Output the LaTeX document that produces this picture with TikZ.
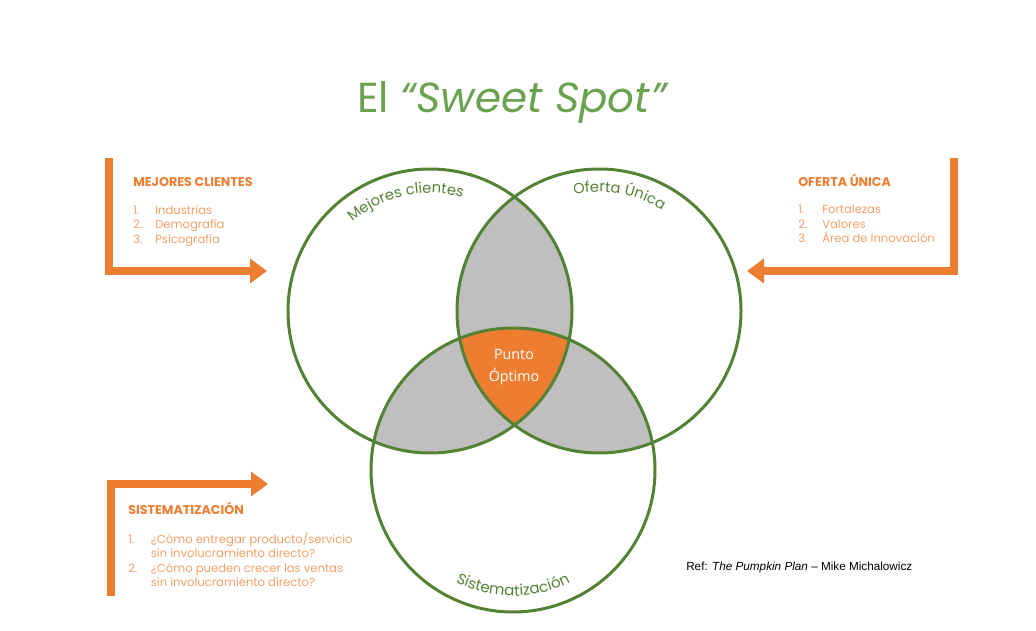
\documentclass[tikz,border=0pt]{standalone}
\usepackage{fontspec}
\setmainfont{Poppins}
\newfontfamily\puntofont{Open Sans}
\newfontfamily\reffont{Liberation Sans}
\usetikzlibrary{arrows.meta}
\usetikzlibrary{calc}
\usetikzlibrary{decorations.text}

\definecolor{ringgreen}{RGB}{84,130,53}
\definecolor{titlegreen}{RGB}{106,162,79}
\definecolor{spotorange}{RGB}{237,125,49}
\definecolor{listorange}{RGB}{244,160,104}
\definecolor{lensgray}{RGB}{191,191,191}

\begin{document}
\begin{tikzpicture}[x=0.75pt,y=0.75pt,yscale=-1,xscale=1,
  ring/.style={draw=ringgreen, line width=2.25pt},
  lens/.style={fill=lensgray},
  bentarrow/.style={draw=spotorange, line width=6pt, line join=miter, -{Triangle[length=12.75pt,width=18pt]}},
  heading/.style={anchor=base west, inner sep=0pt, text=spotorange, font=\fontsize{9.5}{11}\selectfont\bfseries},
  itemlist/.style={anchor=north west, inner sep=0pt, align=left, text=listorange, font=\fontsize{8.7}{10.9}\selectfont},
  ringlabel/.style={decorate, decoration={text along path, text align=center, text color=ringgreen}}
]
\path (0,0) rectangle (1036,631);

% centres of the three circles
\coordinate (cMC) at (430,311);
\coordinate (cOU) at (599,311);
\coordinate (cSis) at (513,470);

%Shape: lenses
\begin{scope}
\clip (cMC) circle [radius=142];
\fill [lens] (cOU) circle [radius=142];
\fill [lens] (cSis) circle [radius=142];
\end{scope}
\begin{scope}
\clip (cOU) circle [radius=142];
\fill [lens] (cSis) circle [radius=142];
\end{scope}
%Shape: sweet spot
\begin{scope}
\clip (cMC) circle [radius=142];
\clip (cOU) circle [radius=142];
\fill [spotorange] (cSis) circle [radius=142];
\end{scope}

%Shape: Circles
\draw [ring] (cMC) circle [radius=142];
\draw [ring] (cOU) circle [radius=142];
\draw [ring] (cSis) circle [radius=142];

% Curved labels
\path [ringlabel, decoration={text={|\fontsize{11}{13}\selectfont|Mejores clientes}}] ($(cMC)+(-150:118)$) arc [start angle=-150, end angle=-55, radius=118];
\path [ringlabel, decoration={text={|\fontsize{11}{13}\selectfont|Oferta Única}}] ($(cOU)+(-125:119)$) arc [start angle=-125, end angle=-35, radius=119];
\path [ringlabel, decoration={text={|\fontsize{11.3}{13}\selectfont|Sistematización}}] ($(cSis)+(130:126)$) arc [start angle=130, end angle=50, radius=126];

% Text Node
\node (spot) [text=white, align=center, font=\puntofont\fontsize{10.7}{16.5}\selectfont] at (514,367) {Punto\\Óptimo};
% Text Node
\node (title) [anchor=base, text=titlegreen, font=\fontsize{31.5}{38}\selectfont] at (513,113) {El \textit{“Sweet Spot”}};

%Straight Lines: bent arrows
\draw [bentarrow] (109,158) -- (109,271) -- (267,271);
\draw [bentarrow] (954,158) -- (954,271) -- (747,271);
\draw [bentarrow] (111,596) -- (111,484) -- (268,484);

% Text Node
\node (hdMC) [heading] at (133,186.5) {MEJORES CLIENTES};
\node (lstMC) [itemlist] at (133,205) {\makebox[16.5pt][l]{1.}Industrias\\\makebox[16.5pt][l]{2.}Demografía\\\makebox[16.5pt][l]{3.}Psicografía};
% Text Node
\node (hdOU) [heading] at (798,186.5) {OFERTA ÚNICA};
\node (lstOU) [itemlist] at (798,205) {\makebox[18pt][l]{1.}Fortalezas\\\makebox[18pt][l]{2.}Valores\\\makebox[18pt][l]{3.}Área de Innovación};
% Text Node
\node (hdSis) [heading] at (128,514) {SISTEMATIZACIÓN};
\node (lstSis) [itemlist] at (128,532) {\makebox[17pt][l]{1.}¿Cómo entregar producto/servicio\\\hspace*{17pt}sin involucramiento directo?\\\makebox[17pt][l]{2.}¿Cómo pueden crecer las ventas\\\hspace*{17pt}sin involucramiento directo?};

% Text Node
\node (ref) [anchor=base west, inner sep=0pt, font=\reffont\fontsize{8.8}{10}\selectfont] at (686,570) {Ref: \textit{The Pumpkin Plan} – Mike Michalowicz};

\end{tikzpicture}
\end{document}
